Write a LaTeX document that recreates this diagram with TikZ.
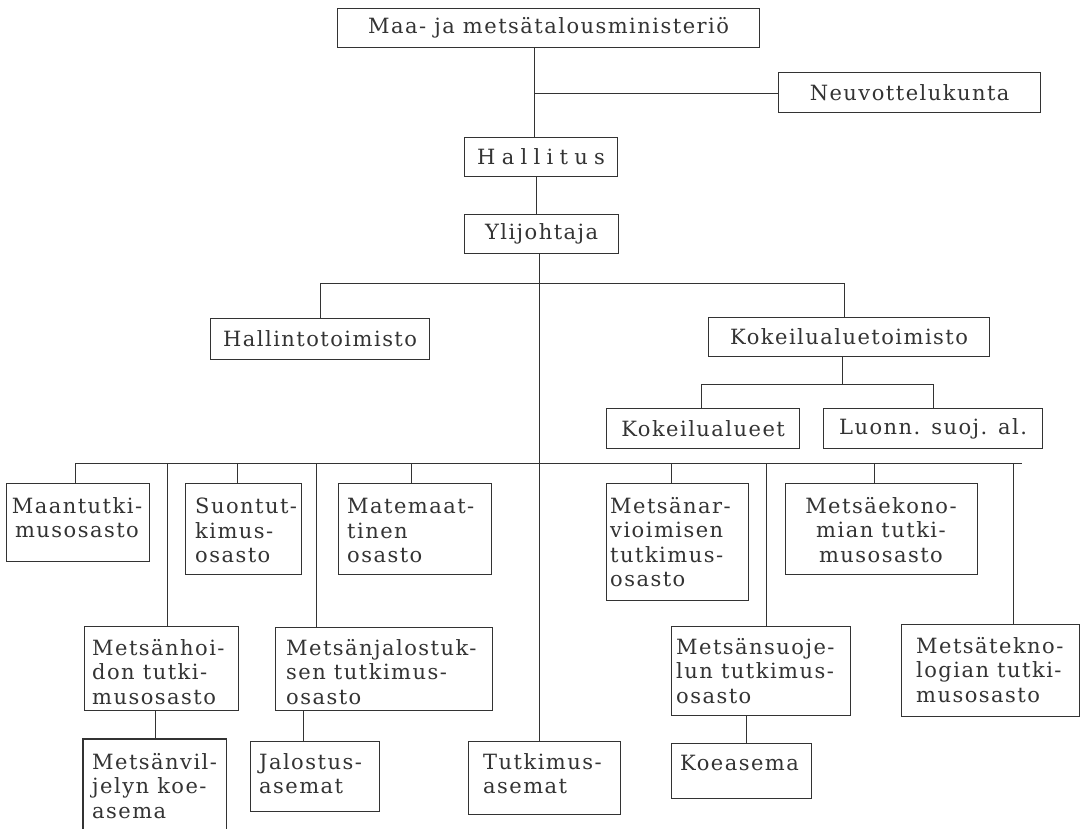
\documentclass[tikz,border=0pt]{standalone}
\usepackage{fontspec}
\setmainfont{DejaVu Serif}[LetterSpace=7]
\definecolor{ink}{HTML}{333333}
\newcommand{\orgbox}[5]{\node[box,minimum width={#4-#2},minimum height={#5-#3}] (#1) at (#2,#3) {};}
\begin{document}
\begin{tikzpicture}[x=1pt,y=-1pt,
  box/.style={draw=ink,line width=1.2pt,rectangle,inner sep=0pt,anchor=north west},
  lbl/.style={inner sep=0pt,text=ink,font=\fontsize{21}{24.5}\selectfont},
  ltxt/.style={lbl,align=left,anchor=north west},
  wire/.style={draw=ink,line width=0.9pt}]
\useasboundingbox[fill=white] (0,0) rectangle (1082,828);

% boxes
\orgbox{min}{337}{8}{759}{47}
\orgbox{neu}{778}{72}{1040}{112}
\orgbox{hal}{464}{137}{617}{176}
\orgbox{yli}{464}{214}{618}{253}
\orgbox{hto}{210}{318}{429}{359}
\orgbox{kto}{708}{317}{989}{356}
\orgbox{kal}{606}{408}{799}{448}
\orgbox{lsa}{823}{408}{1042}{448}
\orgbox{maa}{6}{483}{149}{561}
\orgbox{suo}{185}{483}{301}{574}
\orgbox{mat}{338}{483}{491}{574}
\orgbox{arv}{606}{483}{748}{600}
\orgbox{eko}{785}{483}{977}{574}
\orgbox{hoi}{84}{626}{238}{710}
\orgbox{jal}{275}{627}{492}{710}
\orgbox{suoj}{671}{626}{850}{715}
\orgbox{tek}{901}{624}{1079}{716}
\node[box,draw=none,minimum width=142,minimum height=100] (vil) at (83,739) {};
\draw[draw=ink,line width=1.2pt] (vil.south west) -- (vil.north west) -- (vil.north east) -- (vil.south east);
\orgbox{jas}{250}{741}{379}{811}
\orgbox{tas}{468}{741}{620}{814}
\orgbox{koe}{671}{743}{811}{798}

% labels
\node[lbl] (min-t) at (min.center) {Maa- ja metsätalousministeriö};
\node[lbl] (neu-t) at (neu.center) {Neuvottelukunta};
\node[lbl] (hal-t) at (hal.center) {\addfontfeature{LetterSpace=30}Hallitus};
\node[lbl] (yli-t) at (yli.center) {Ylijohtaja};
\node[lbl] (hto-t) at (hto.center) {Hallintotoimisto};
\node[lbl] (kto-t) at (kto.center) {Kokeilualuetoimisto};
\node[lbl] (kal-t) at (kal.center) {Kokeilualueet};
\node[lbl] (lsa-t) at (lsa.center) {Luonn. suoj. al.};
\node[lbl,align=center,anchor=north] (maa-t) at (77,497) {Maantutki-\\musosasto};
\node[ltxt] (suo-t) at (195,498) {Suontut-\\kimus-\\osasto};
\node[ltxt] (mat-t) at (347,498) {Matemaat-\\tinen\\osasto};
\node[ltxt] (arv-t) at (610,497) {Metsänar-\\vioimisen\\tutkimus-\\osasto};
\node[lbl,align=center,anchor=north] (eko-t) at (881,497) {Metsäekono-\\mian tutki-\\musosasto};
\node[ltxt] (hoi-t) at (92,639) {Metsänhoi-\\don tutki-\\musosasto};
\node[ltxt] (jal-t) at (286,639) {Metsänjalostuk-\\sen tutkimus-\\osasto};
\node[ltxt] (suoj-t) at (676,638) {Metsänsuoje-\\lun tutkimus-\\osasto};
\node[ltxt] (tek-t) at (916,637) {Metsätekno-\\logian tutki-\\musosasto};
\node[ltxt] (vil-t) at (92,753) {Metsänvil-\\jelyn koe-\\asema};
\node[ltxt] (jas-t) at (259,753) {Jalostus-\\asemat};
\node[ltxt] (tas-t) at (483,753) {Tutkimus-\\asemat};
\node[ltxt] (koe-t) at (680,755) {Koeasema};

% connectors
\coordinate (t0) at (534,93);
\draw[wire] (t0 |- min.south) -- (t0 |- hal.north);
\draw[wire] (t0) -- (t0 -| neu.west);
\coordinate (t1) at (536,0);
\draw[wire] (t1 |- hal.south) -- (t1 |- yli.north);
\coordinate (tr) at (539,0);
\draw[wire] (tr |- yli.south) -- (tr |- tas.north);
\coordinate (b1l) at (320,283);
\coordinate (b1r) at (844,283);
\draw[wire] (b1l |- hto.north) -- (b1l) -- (b1r) -- (b1r |- kto.north);
\coordinate (b2) at (842,384);
\coordinate (b2l) at (701,384);
\coordinate (b2r) at (933,384);
\draw[wire] (b2 |- kto.south) -- (b2);
\draw[wire] (b2l |- kal.north) -- (b2l) -- (b2r) -- (b2r |- lsa.north);
\coordinate (c0) at (75,463);
\coordinate (c9) at (1022,463);
\draw[wire] (c0 |- maa.north) -- (c0) -- (c9);
\foreach \x/\n in {167/hoi,237/suo,316/jal,411/mat,671/arv,766/suoj,874/eko,1013/tek}{
  \coordinate (d) at (\x,463);
  \draw[wire] (d) -- (d |- \n.north);
}
\coordinate (e1) at (155,0);
\draw[wire] (e1 |- hoi.south) -- (e1 |- vil.north);
\coordinate (e2) at (303,0);
\draw[wire] (e2 |- jal.south) -- (e2 |- jas.north);
\coordinate (e3) at (746,0);
\draw[wire] (e3 |- suoj.south) -- (e3 |- koe.north);
\end{tikzpicture}
\end{document}
